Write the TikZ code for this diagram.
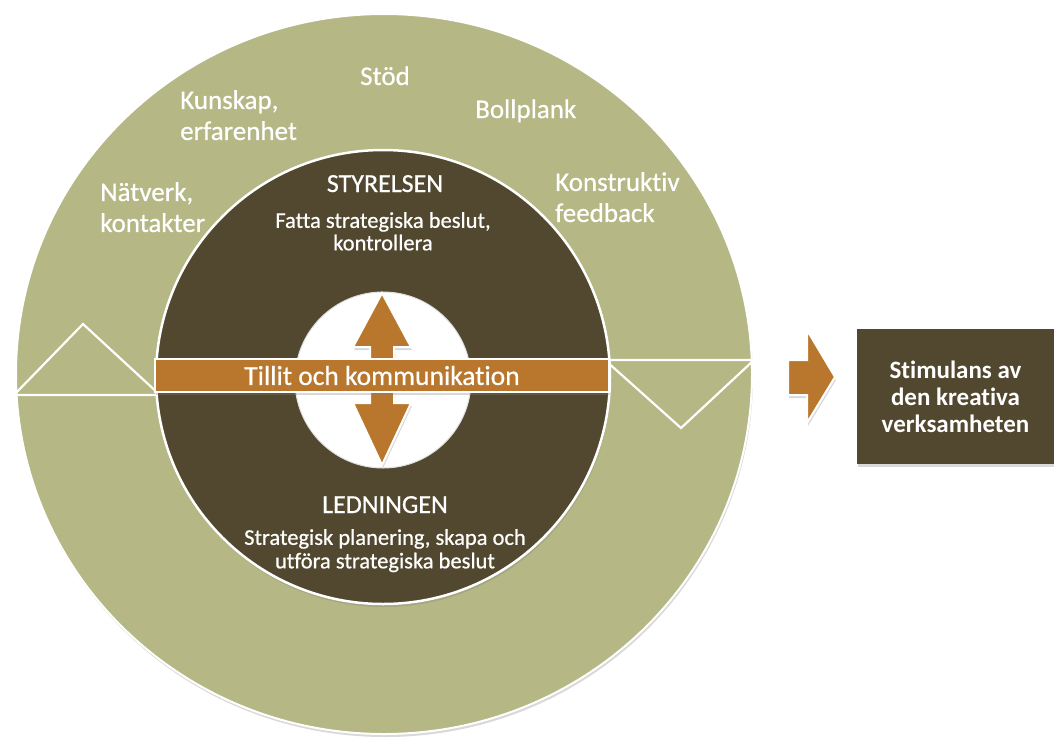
\documentclass[tikz,border=0pt]{standalone}
\usepackage{fontspec}
\setmainfont[Ligatures=NoCommon, UprightFeatures={FakeBold=0.6}]{Carlito}
\usetikzlibrary{shapes.geometric,shadows}
\definecolor{ringcol}{HTML}{B5B784}
\definecolor{darkcol}{HTML}{52482F}
\definecolor{orangecol}{HTML}{B8772C}
\begin{document}
\begin{tikzpicture}[x=1pt,y=-1pt,
  softshadow/.style={drop shadow={opacity=0.30, shadow xshift=1pt, shadow yshift=-3pt}},
  wline/.style={white, line width=2.2pt, line join=miter},
  ringtext/.style={text=white, font=\fontsize{27}{31}\selectfont, align=left, inner sep=0pt},
  headtext/.style={text=white, font=\fontsize{26}{30}\selectfont, inner sep=0pt},
  subtext/.style={text=white, font=\fontsize{22.5}{22.5}\selectfont, align=center, inner sep=0pt},
  orangeshape/.style={fill=orangecol, draw=white, line width=2pt, softshadow}]
\useasboundingbox (0,0) rectangle (1054,737);
% outer ring
\node[ellipse, fill=ringcol, draw=white, line width=2pt, minimum width=736pt, minimum height=720pt, inner sep=0pt, softshadow] (outer) at (384,374) {};
% wave lines and triangles
\coordinate (lA) at (14,395);
\coordinate (lP) at (83,324);
\coordinate (lB) at (160,395);
\coordinate (rA) at (605,360);
\coordinate (rP) at (681,428);
\coordinate (rB) at (754,360);
\draw[wline] (lA) -- (lP) -- (lB) -- cycle;
\draw[wline] (rA) -- (rP) -- (rB) -- cycle;
% inner dark circle
\node[circle, fill=darkcol, draw=white, line width=2.5pt, minimum size=454pt, inner sep=0pt, softshadow] (board) at (383,377) {};
% white hub
\node[circle, fill=white, draw=black!12, line width=1pt, minimum size=176pt, inner sep=0pt] (hub) at (383,380) {};
% double arrow
\draw[orangeshape] (382,293) -- (411,347) -- (394,347) -- (394,403) -- (411,403) -- (382,465)
  -- (353,403) -- (370,403) -- (370,347) -- (353,347) -- cycle;
% band
\node[rectangle, orangeshape, minimum width=454pt, minimum height=33pt, inner sep=0pt,
  text=white, font=\fontsize{27.5}{30}\selectfont] (band) at (382,375.5) {Tillit och kommunikation};
% ring labels
\node[ringtext, anchor=base] (stod) at (385,85) {Stöd};
\node[ringtext, anchor=north west] (kunskap) at (180,90) {Kunskap,\\erfarenhet};
\node[ringtext, anchor=base west] (boll) at (475,118) {Bollplank};
\node[ringtext, anchor=north west] (natverk) at (100,182) {Nätverk,\\kontakter};
\node[ringtext, anchor=north west] (konstr) at (555,172) {Konstruktiv\\feedback};
% board texts
\node[headtext, anchor=base] (styr) at (385,192) {STYRELSEN};
\node[subtext, anchor=north] (styrsub) at (383,212) {Fatta strategiska beslut,\\kontrollera};
\node[headtext, anchor=base] (led) at (385,513) {LEDNINGEN};
\node[subtext, font=\fontsize{22.5}{23.5}\selectfont, anchor=north] (ledsub) at (385,529) {Strategisk planering, skapa och\\utföra strategiska beslut};
% right arrow
\draw[orangeshape] (788,360) -- (807,360) -- (807,330) -- (835,377) -- (807,423) -- (807,395) -- (788,395) -- cycle;
% result box
\node[rectangle, fill=darkcol, minimum width=197pt, minimum height=135pt, inner sep=0pt,
  text=white, align=center, font=\bfseries\fontsize{25}{27}\selectfont, softshadow] (result) at (955.5,396.5)
  {Stimulans av\\den kreativa\\verksamheten};
\end{tikzpicture}
\end{document}
